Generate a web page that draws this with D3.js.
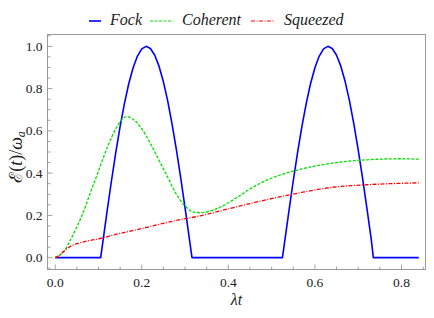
<!DOCTYPE html>
<html lang="en">
<head>
<meta charset="UTF-8">
<title>Energy vs lambda t</title>
<script src="https://d3js.org/d3.v7.min.js"></script>
<style>
  body { margin: 0; background: #fff; }
  svg { display: block; }
  text { font-family: "Liberation Serif", "DejaVu Serif", serif; }
</style>
</head>
<body>
<svg id="chart" width="434" height="318"></svg>
<script>
// values
const fockX = [0, 0.105, 0.11, 0.12, 0.13, 0.14, 0.15, 0.16, 0.17, 0.18, 0.19, 0.20, 0.21, 0.22, 0.23,
               0.24, 0.25, 0.26, 0.27, 0.28, 0.29, 0.30, 0.31, 0.316,
               0.525, 0.53, 0.54, 0.55, 0.56, 0.57, 0.58, 0.59, 0.60, 0.61, 0.62, 0.63, 0.64, 0.65,
               0.66, 0.67, 0.68, 0.69, 0.70, 0.71, 0.72, 0.73, 0.735, 0.84];
const fockY = [0, 0, 0.074, 0.221, 0.364, 0.498, 0.621, 0.730, 0.824, 0.899, 0.954, 0.988, 1.0, 0.990, 0.958,
               0.905, 0.832, 0.741, 0.632, 0.510, 0.378, 0.236, 0.089, 0,
               0, 0.074, 0.221, 0.364, 0.498, 0.621, 0.730, 0.824, 0.899, 0.954, 0.988, 1.0, 0.990, 0.958,
               0.905, 0.832, 0.741, 0.632, 0.510, 0.378, 0.236, 0.089, 0, 0];

const cohX = [0, 0.02, 0.035, 0.05, 0.06, 0.08, 0.10, 0.12, 0.14, 0.155, 0.165, 0.18, 0.20, 0.22,
              0.24, 0.26, 0.28, 0.30, 0.32, 0.335, 0.36, 0.39, 0.42, 0.45, 0.49, 0.53, 0.57, 0.64,
              0.72, 0.80, 0.84];
const cohY = [0, 0.03, 0.083, 0.146, 0.19, 0.30, 0.41, 0.52, 0.61, 0.655, 0.667, 0.655, 0.61, 0.54,
              0.46, 0.38, 0.30, 0.245, 0.216, 0.213, 0.222, 0.248, 0.285, 0.325, 0.368, 0.398, 0.42, 0.447,
              0.463, 0.468, 0.466];

const sqzX = [0, 0.01, 0.02, 0.03, 0.04, 0.05, 0.07, 0.10, 0.15, 0.20, 0.27, 0.335, 0.41, 0.49,
              0.565, 0.64, 0.72, 0.80, 0.84];
const sqzY = [0, 0.012, 0.03, 0.047, 0.058, 0.066, 0.077, 0.089, 0.115, 0.138, 0.172, 0.198, 0.236, 0.275,
              0.307, 0.333, 0.345, 0.352, 0.354];

const xTicks = [0, 0.2, 0.4, 0.6, 0.8];
const yTicks = [0, 0.2, 0.4, 0.6, 0.8, 1.0];

const svg = d3.select("#chart");
const plotL = 47.5, plotR = 425.5, plotT = 34.5, plotB = 269.5;

const x = d3.scaleLinear().domain([-0.0178, 0.8555]).range([plotL, plotR]);
const y = d3.scaleLinear().domain([-0.056, 1.056]).range([plotB, plotT]);

// frame
svg.append("rect")
  .attr("x", plotL).attr("y", plotT)
  .attr("width", plotR - plotL).attr("height", plotB - plotT)
  .attr("fill", "none").attr("stroke", "#9a9a9a").attr("stroke-width", 1);

// ticks (inside, left and bottom only)
const xMinor = d3.range(0, 0.86, 0.05);
const yMinor = d3.range(-0.05, 1.06, 0.05);
const tickColor = "#8a8a8a";
const isMajor = (arr, d) => arr.some(t => Math.abs(t - d) < 1e-6);

svg.append("g").selectAll("line").data(xMinor).enter().append("line")
  .attr("x1", d => x(d)).attr("x2", d => x(d))
  .attr("y1", plotB)
  .attr("y2", d => plotB - (isMajor(xTicks, d) ? 5 : 3))
  .attr("stroke", tickColor).attr("stroke-width", 0.8);

svg.append("g").selectAll("line").data(yMinor).enter().append("line")
  .attr("y1", d => y(d)).attr("y2", d => y(d))
  .attr("x1", plotL)
  .attr("x2", d => plotL + (isMajor(yTicks, d) ? 5 : 3))
  .attr("stroke", tickColor).attr("stroke-width", 0.8);

svg.append("g").selectAll("text").data(xTicks).enter().append("text")
  .attr("font-size", 13.5).attr("fill", "#222")
  .attr("x", d => x(d)).attr("y", plotB + 17.5)
  .attr("text-anchor", "middle")
  .text(d => d3.format(".1f")(d));

svg.append("g").selectAll("text").data(yTicks).enter().append("text")
  .attr("font-size", 13.5).attr("fill", "#222")
  .attr("x", plotL - 5).attr("y", d => y(d) + 4.5)
  .attr("text-anchor", "end")
  .text(d => d3.format(".1f")(d));

// axis titles
svg.append("text")
  .attr("font-size", 16).attr("fill", "#222")
  .attr("x", (plotL + plotR) / 2).attr("y", 305)
  .attr("text-anchor", "middle")
  .attr("font-style", "italic")
  .text("λt");

const yt = svg.append("text")
  .attr("font-size", 18).attr("fill", "#222")
  .attr("transform", "translate(22,157) rotate(-90)")
  .attr("text-anchor", "middle");
yt.append("tspan").text("ℰ(");
yt.append("tspan").attr("font-style", "italic").text("t");
yt.append("tspan").text(")/");
yt.append("tspan").attr("font-style", "italic").text("ω");
yt.append("tspan").attr("font-style", "italic").attr("font-size", 12).attr("dy", 3).text("a");

// series
const series = [
  { name: "Fock", xs: fockX, ys: fockY, color: "#0000ff", width: 1.6, dash: null, curve: d3.curveLinear },
  { name: "Coherent", xs: cohX, ys: cohY, color: "#00e000", width: 1.3, dash: "3,1.5", curve: d3.curveMonotoneX },
  { name: "Squeezed", xs: sqzX, ys: sqzY, color: "#ff0000", width: 1.3, dash: "4,1.5,1,1.5", curve: d3.curveMonotoneX }
];

series.forEach(s => {
  const pts = s.xs.map((v, i) => [v, s.ys[i]]);
  const line = d3.line().x(d => x(d[0])).y(d => y(d[1])).curve(s.curve);
  svg.append("path")
    .datum(pts)
    .attr("fill", "none")
    .attr("stroke", s.color)
    .attr("stroke-width", s.width)
    .attr("stroke-linejoin", "round")
    .attr("stroke-dasharray", s.dash)
    .attr("d", line);
});

// legend
const legendX = [89, 150, 251];
const legendTextX = [110, 182, 284];
const lg = svg.append("g");
series.forEach((s, i) => {
  lg.append("line")
    .attr("x1", legendX[i]).attr("x2", legendX[i] + (i === 0 ? 12 : 23))
    .attr("y1", 21).attr("y2", 21)
    .attr("stroke", s.color).attr("stroke-width", i === 0 ? 1.6 : 1)
    .attr("stroke-dasharray", s.dash);
  lg.append("text")
    .attr("font-size", 16).attr("font-style", "italic").attr("fill", "#222")
    .attr("x", legendTextX[i]).attr("y", 24.5)
    .text(s.name);
});
</script>
</body>
</html>
